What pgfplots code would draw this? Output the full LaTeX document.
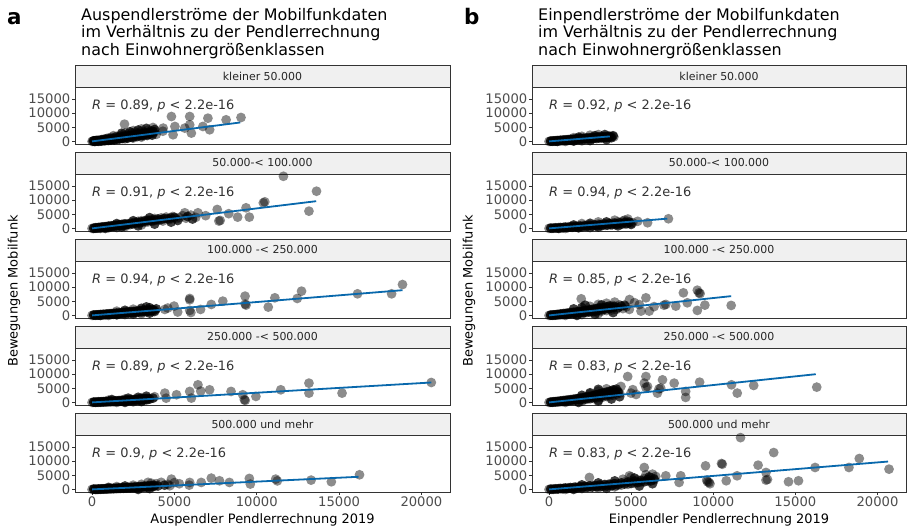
\documentclass[border=0pt]{standalone}
\usepackage{pgfplots}
\pgfplotsset{compat=1.18}
\usepackage{fontspec}
\setmainfont{DejaVu Sans}
\definecolor{gray20}{HTML}{333333}
\definecolor{gray30}{HTML}{4D4D4D}
\definecolor{stripfill}{HTML}{F0F0F0}
\definecolor{fitblue}{HTML}{0868AC}
\pgfplotsset{
  facet/.style={scale only axis, height=57bp,
    xmin=-1035, xmax=21735, ymin=-915, ymax=19215,
    axis line style={gray20, line width=0.9bp},
    tick style={gray20, line width=0.8bp}, tick align=outside, major tick length=3bp,
    ytick={0,5000,10000,15000}, xtick pos=bottom, ytick pos=left,
    scaled ticks=false, clip mode=individual,
    /pgf/number format/set thousands separator={},
    /pgf/number format/assume math mode=true,
    ticklabel style={font=\fontsize{13.2}{13.2}\selectfont, text=gray30},
    yticklabel style={inner sep=1.5bp},
  },
  top/.style={xtick=\empty},
  bottom/.style={xtick={0,5000,10000,15000,20000}, xticklabel style={inner sep=2bp}},
  dots/.style={only marks, mark=*, mark size=4.9bp, mark options={draw opacity=0, fill=black, fill opacity=0.45}},
  core/.style={only marks, mark=*, mark size=4.9bp, mark options={draw opacity=0, fill=black, fill opacity=0.75}},
  fit/.style={no marks, color=fitblue, line width=1.8bp},
}
\newcommand{\rlabel}[1]{\node[anchor=west, inner sep=0pt, text=gray20, font=\fontsize{13}{13}\selectfont] at (axis cs:0,12500) {#1};}
\newcommand{\strip}[4]{\draw[fill=stripfill, draw=gray20, line width=0.9bp] (#1,#2) rectangle ++(#3,22);
  \node[text=black!85, font=\fontsize{11}{11}\selectfont] at (#1+#3/2, #2+11) {#4};}
\begin{document}
\begin{tikzpicture}[x=1bp, y=1bp]
\useasboundingbox (0,0) rectangle (907,531);
% ---------- titles ----------
\node[anchor=base west, inner sep=0pt, font=\fontsize{21.5}{21.5}\selectfont\bfseries] at (7,506) {a};
\node[anchor=north west, inner sep=0pt, align=left, font=\fontsize{16}{17.5}\selectfont] at (81,523) {Auspendlerströme der Mobilfunkdaten\\im Verhältnis zu der Pendlerrechnung\\nach Einwohnergrößenklassen};
\node[anchor=base west, inner sep=0pt, font=\fontsize{21.5}{21.5}\selectfont\bfseries] at (464,506) {b};
\node[anchor=north west, inner sep=0pt, align=left, font=\fontsize{16}{17.5}\selectfont] at (538,523) {Einpendlerströme der Mobilfunkdaten\\im Verhältnis zu der Pendlerrechnung\\nach Einwohnergrößenklassen};
% ---------- axis labels ----------
\node[rotate=90, font=\fontsize{13}{13}\selectfont] at (14,240) {Bewegungen Mobilfunk};
\node[rotate=90, font=\fontsize{13}{13}\selectfont] at (469,240) {Bewegungen Mobilfunk};
\node[font=\fontsize{13}{13}\selectfont] at (262.5,11) {Auspendler Pendlerrechnung 2019};
\node[font=\fontsize{13}{13}\selectfont] at (719,11) {Einpendler Pendlerrechnung 2019};
% ---------- strips ----------
\strip{75}{444}{375}{kleiner 50.000}
\strip{75}{357}{375}{50.000-< 100.000}
\strip{75}{270}{375}{100.000 -< 250.000}
\strip{75}{183}{375}{250.000 -< 500.000}
\strip{75}{96}{375}{500.000 und mehr}
\strip{532}{444}{374}{kleiner 50.000}
\strip{532}{357}{374}{50.000-< 100.000}
\strip{532}{270}{374}{100.000 -< 250.000}
\strip{532}{183}{374}{250.000 -< 500.000}
\strip{532}{96}{374}{500.000 und mehr}
% ================= LEFT COLUMN =================
\begin{axis}[facet, top, width=375bp, at={(75bp,387bp)}, anchor=south west]
\addplot[dots] coordinates {(0,0) (50,100) (100,50) (150,200) (200,100) (250,300) (300,150) (350,250) (400,400) (450,200) (500,500) (550,300) (600,650) (650,400) (700,700) (750,450) (800,900) (850,600) (900,1000) (950,700) (1000,1200) (1050,800) (1100,1100) (1150,600) (1200,1400) (1300,900) (1400,1500) (1450,1000) (1500,1800) (1600,1200) (1700,1900) (1750,1300) (1800,2300) (1900,1500) (2000,2200) (2100,1700) (2200,2600) (2300,1900) (2400,2900) (2500,2100) (2600,3300) (2700,2400) (2800,3000) (2900,2000) (3000,3600) (3100,2600) (3200,3300) (3300,2800) (3400,4000) (3500,3000) (3600,3700) (3700,2700) (3800,3400) (3900,2500) (1300,2000) (2000,3000) (2500,3800) (3000,4400) (200,0) (400,0) (600,100) (800,200) (1000,300) (1500,700) (2000,900) (2500,1200) (3000,1500)
(1970,6090) (4820,8790) (4920,2340) (5930,8790) (5930,5860) (6030,2930) (7035,8200) (7140,4100) (8140,7620) (9045,8440) (6730,5270) (5630,4690) (4320,4690) (5030,5270) (4300,3600) (3700,4900)};
\addplot[core] coordinates {(100,200) (200,250) (300,350) (400,200) (500,300) (600,450) (700,350) (800,550) (900,450) (1000,700) (1100,600) (1200,900) (1300,700) (1400,1100) (1500,900) (1600,1400) (1700,1100) (1800,1600) (1900,1300) (2000,1700) (2100,1400) (2200,2000) (2300,1600) (2400,2200) (2500,1800) (2600,2500) (2700,2000) (2800,2600) (2900,2300) (3000,2800) (3100,2200) (3200,2900) (3300,2400) (3400,3200) (3500,2600) (3600,3100) (3700,3500) (3800,4200) (1800,2900) (2300,3400) (2800,4000) (3300,4600) (150,0) (350,100) (550,150) (750,300) (950,400) (1150,450) (1350,500) (1650,800) (1850,1000) (2150,1100) (2450,1400) (2750,1700) (3050,2000) (3350,2100) (3650,2200)};
\addplot[fit] coordinates {(0,0) (9000,6680)};
\rlabel{\textit{R} = 0.89, \textit{p} < 2.2e-16}
\end{axis}
\begin{axis}[facet, top, width=375bp, at={(75bp,300bp)}, anchor=south west]
\addplot[dots] coordinates {(0,0) (100,100) (200,50) (300,250) (400,150) (500,400) (600,250) (700,550) (800,350) (900,700) (1000,500) (1100,850) (1200,600) (1300,1000) (1400,750) (1500,1200) (1600,900) (1700,1300) (1800,1000) (1900,1500) (2000,1200) (2200,1700) (2300,1300) (2400,2000) (2500,1500) (2600,2200) (2700,1700) (2800,2500) (2900,1900) (3000,2700) (3200,2100) (3300,3000) (3400,2300) (3600,3200) (3700,2500) (3800,3500) (4000,2800) (4200,3700) (4300,2600) (4500,4000) (4700,3100) (4900,4200) (5100,3400) (5300,3800) (5500,4500) (5700,3600) (6000,4700) (6300,3900) (1000,200) (2000,600) (3000,1200) (500,0) (1500,300)
(11620,18400) (13630,13130) (13170,6090) (10490,9380) (10400,9000) (9350,7270) (9550,3980) (8840,3980) (7600,6680) (7780,2810) (7700,2600) (6430,5510) (5630,5510) (6900,4500) (8300,5200)};
\addplot[core] coordinates {(100,0) (200,200) (300,100) (400,350) (500,200) (600,500) (700,350) (800,600) (900,450) (1000,800) (1100,600) (1200,900) (1300,700) (1400,1100) (1500,850) (1600,1200) (1700,1000) (1800,1400) (1900,1100) (2000,1600) (2100,1300) (2200,1500) (2400,1600) (2600,1900) (2800,2100) (3000,2300) (3200,2600) (3400,2800) (3600,2700) (3800,3000) (4000,3300) (4200,3100) (4400,3500) (4600,3400) (4800,3700) (5000,3900) (3500,3800) (2500,2700) (1500,1700) (800,0) (1800,500) (2800,900) (3800,1500) (4800,2200) (5200,2800) (5800,4200) (6100,3300)};
\addplot[fit] coordinates {(0,0) (13610,9610)};
\rlabel{\textit{R} = 0.91, \textit{p} < 2.2e-16}
\end{axis}
\begin{axis}[facet, top, width=375bp, at={(75bp,213bp)}, anchor=south west]
\addplot[dots] coordinates {(0,0) (100,50) (200,150) (300,50) (400,250) (500,100) (600,350) (700,150) (800,450) (900,250) (1000,550) (1100,300) (1200,650) (1300,350) (1400,800) (1500,450) (1600,900) (1700,550) (1800,1000) (1900,600) (2000,1200) (2100,700) (2200,1300) (2300,800) (2400,1400) (2500,900) (2600,1500) (2700,1000) (2800,1700) (2900,1100) (3000,1800) (3100,1200) (3200,1900) (3300,1300) (3400,2000) (3500,1400) (3600,2100) (3700,1500) (3800,1900) (1000,0) (2000,300) (3000,600) (2500,2200) (1500,1500)
(18850,10900) (18190,7620) (16120,7620) (12720,8560) (12460,5980) (11100,6210) (10700,2930) (9290,6800) (9350,3630) (7940,5040) (7240,3870) (6590,2110) (5930,5980) (5930,5500) (5930,1760) (4980,3280) (4420,2110) (5200,1200) (4600,2600) (6000,1000) (9300,4000)};
\addplot[core] coordinates {(100,150) (200,50) (300,200) (400,100) (500,300) (600,200) (700,400) (800,250) (900,500) (1000,350) (1100,600) (1200,400) (1300,700) (1400,500) (1500,800) (1600,600) (1700,900) (1800,700) (1900,1050) (2000,800) (2100,1150) (2200,900) (2300,1250) (2400,1000) (2500,1350) (2600,1100) (2700,1450) (2800,1200) (2900,1600) (3000,1300) (3100,1700) (3200,1400) (3300,1800) (3400,1500) (3500,1900) (3600,1600) (3700,2000) (3800,1400) (2000,1800) (3000,2500) (3500,2700) (500,0) (1500,200) (2500,500) (3500,800) (3900,2300) (3300,3000)};
\addplot[fit] coordinates {(0,0) (18850,8900)};
\rlabel{\textit{R} = 0.94, \textit{p} < 2.2e-16}
\end{axis}
\begin{axis}[facet, top, width=375bp, at={(75bp,126bp)}, anchor=south west]
\addplot[dots] coordinates {(0,0) (100,50) (200,0) (300,150) (400,50) (500,200) (600,100) (700,300) (800,150) (900,350) (1000,200) (1100,450) (1200,250) (1300,500) (1400,300) (1500,600) (1600,350) (1700,700) (1800,400) (1900,750) (2000,450) (2100,850) (2200,500) (2300,900) (2400,600) (2500,1000) (2600,650) (2700,1100) (2800,700) (2900,1200) (3000,800) (3100,1300) (3200,900) (3300,1500) (3400,1000) (1000,800) (2000,1200) (3000,1600) (1500,0) (2500,200)
(20600,7030) (15180,3280) (13170,6800) (13170,3280) (11460,4450) (9950,2110) (9150,2700) (9250,940) (9300,700) (8440,3870) (7140,4450) (6430,6210) (6600,4000) (5930,3870) (6030,1520) (5130,2700) (4420,3280) (3800,2000) (4500,1500)};
\addplot[core] coordinates {(100,100) (200,100) (300,50) (400,200) (500,100) (600,250) (700,150) (800,300) (900,200) (1000,400) (1100,250) (1200,450) (1300,300) (1400,550) (1500,350) (1600,600) (1700,400) (1800,700) (1900,450) (2000,800) (2100,500) (2200,850) (2300,600) (2400,950) (2500,650) (2600,1050) (2700,700) (2800,1150) (2900,800) (3000,1250) (3100,850) (3200,1350) (3300,950) (3400,1400) (3500,1200) (3700,1500) (2000,0) (3000,300) (2200,1500) (2800,1800) (3300,2200) (1200,1000)};
\addplot[fit] coordinates {(0,0) (20600,7030)};
\rlabel{\textit{R} = 0.89, \textit{p} < 2.2e-16}
\end{axis}
\begin{axis}[facet, bottom, width=375bp, at={(75bp,39bp)}, anchor=south west]
\addplot[dots] coordinates {(0,0) (100,50) (200,0) (300,100) (400,50) (500,150) (600,100) (700,200) (800,150) (900,250) (1000,200) (1100,350) (1200,250) (1300,400) (1400,300) (1500,450) (1600,350) (1700,500) (1800,400) (1900,600) (2000,450) (2100,650) (2200,500) (2300,700) (2400,550) (2500,800) (2600,600) (2700,900) (2800,650) (2900,1000) (3000,700) (3100,1100) (3200,800) (3300,1200) (3400,900) (3500,1300) (3600,1000) (3700,1500) (3800,1100) (1500,1000) (2500,1500) (3000,1800) (3400,2500) (3600,2200) (3900,2000) (4200,2500) (4600,1800) (5000,2400)
(16240,5160) (14530,2700) (13300,3280) (11150,3630) (11250,3000) (9550,3870) (9610,1880) (8340,2460) (7740,3050) (7240,3980) (6630,2460) (5930,2460) (5900,1500) (4820,3630) (4720,1290) (5300,2000)};
\addplot[core] coordinates {(100,100) (200,50) (300,0) (400,150) (500,50) (600,200) (700,100) (800,250) (900,150) (1000,300) (1100,200) (1200,350) (1300,250) (1400,400) (1500,300) (1600,500) (1700,350) (1800,550) (1900,400) (2000,600) (2100,450) (2200,700) (2300,500) (2400,750) (2500,550) (2600,850) (2700,600) (2800,900) (2900,700) (3000,1000) (3100,750) (3200,1100) (3300,800) (3400,1200) (3500,900) (3600,1300) (3700,1000) (3800,1400) (4000,1200) (4400,1500) (2000,1200) (1000,700) (2800,0) (3500,300)};
\addplot[fit] coordinates {(0,0) (16180,4450)};
\rlabel{\textit{R} = 0.9, \textit{p} < 2.2e-16}
\end{axis}
% ================= RIGHT COLUMN =================
\begin{axis}[facet, top, width=374bp, at={(532bp,387bp)}, anchor=south west]
\addplot[dots] coordinates {(0,0) (100,50) (200,150) (300,50) (400,250) (500,100) (600,350) (700,200) (800,450) (900,250) (1000,550) (1100,300) (1200,650) (1300,400) (1400,750) (1500,500) (1600,850) (1700,550) (1800,950) (1900,650) (2000,1050) (2100,700) (2200,1150) (2300,800) (2400,1300) (2500,850) (2600,1400) (2700,950) (2800,1500) (2900,1000) (3000,1600) (3100,1100) (3200,1700) (3300,1200) (3400,1800) (3500,1300) (3600,1900) (3700,1400) (3800,1700) (3950,1600) (2000,1800) (2500,2200) (3000,2400) (1500,1300) (1000,0) (2000,200)};
\addplot[core] coordinates {(100,100) (200,50) (300,200) (400,100) (500,300) (600,200) (700,400) (800,300) (900,500) (1000,350) (1100,600) (1200,400) (1300,700) (1400,500) (1500,800) (1600,600) (1700,900) (1800,700) (1900,1000) (2000,750) (2100,1100) (2200,850) (2300,1200) (2400,950) (2500,1250) (2600,1000) (2700,1350) (2800,1100) (2900,1450) (3000,1200) (3100,1550) (3200,1300) (3300,1650) (3400,1400) (3500,1700) (3600,1500) (3700,1800) (3800,1300) (3900,2000) (1800,1500) (2800,2000) (3400,2400) (500,0) (1500,100) (2500,300) (3500,600)};
\addplot[fit] coordinates {(0,0) (3700,1760)};
\rlabel{\textit{R} = 0.92, \textit{p} < 2.2e-16}
\end{axis}
\begin{axis}[facet, top, width=374bp, at={(532bp,300bp)}, anchor=south west]
\addplot[dots] coordinates {(0,0) (150,50) (300,150) (450,100) (600,300) (750,200) (900,450) (1050,300) (1200,600) (1350,400) (1500,750) (1650,500) (1800,900) (1950,600) (2100,1050) (2250,700) (2400,1200) (2550,800) (2700,1350) (2850,900) (3000,1500) (3150,1000) (3300,1650) (3450,1100) (3600,1800) (3750,1200) (3900,1950) (4050,1300) (4200,2300) (4350,1400) (4500,2600) (4650,1500) (4800,2400) (4950,1700) (5100,2000) (2000,1700) (3000,2300) (4000,2900) (4600,2900) (1000,0) (2500,300)
(7270,3400) (6000,1990) (5400,2500) (4800,3300)};
\addplot[core] coordinates {(100,100) (250,50) (400,200) (550,100) (700,300) (850,200) (1000,450) (1150,300) (1300,550) (1450,400) (1600,700) (1750,500) (1900,800) (2050,600) (2200,950) (2350,700) (2500,1100) (2650,800) (2800,1200) (2950,950) (3100,1350) (3250,1050) (3400,1500) (3550,1150) (3700,1650) (3850,1300) (4000,1800) (4150,1450) (4300,1950) (4450,1550) (4600,2100) (4750,1700) (4900,2200) (5000,1400) (3500,2300) (2500,1800) (1500,1200) (600,0) (1800,200) (3000,500) (4200,900)};
\addplot[fit] coordinates {(0,0) (7200,3440)};
\rlabel{\textit{R} = 0.94, \textit{p} < 2.2e-16}
\end{axis}
\begin{axis}[facet, top, width=374bp, at={(532bp,213bp)}, anchor=south west]
\addplot[dots] coordinates {(0,0) (100,50) (200,150) (300,50) (400,250) (500,150) (600,400) (700,200) (800,550) (900,300) (1000,700) (1100,400) (1200,850) (1300,500) (1400,1000) (1500,600) (1600,1150) (1700,700) (1800,1300) (1900,800) (2000,1500) (2100,900) (2200,1700) (2300,1000) (2400,1900) (2500,1100) (2600,2100) (2700,1200) (2800,2300) (2900,1300) (3000,2600) (3200,1500) (3300,2900) (3500,1700) (3600,3200) (3800,1900) (3900,3500) (4100,2100) (4300,3700) (4500,2400) (4700,3000) (2500,3200) (3000,3900) (3500,4300) (4000,4700) (1960,5860) (1000,0) (2000,300) (3000,600)
(11090,3520) (9490,3630) (9030,1760) (9030,8900) (9130,7970) (9200,7700) (8180,7970) (8420,4450) (7720,3280) (7110,3870) (7000,3600) (5900,6210) (6100,1520) (5600,1520) (4890,2110) (5200,4500) (5500,3800) (6400,3100) (4900,5600)};
\addplot[core] coordinates {(100,100) (200,50) (300,200) (400,100) (500,350) (600,250) (700,500) (800,350) (900,650) (1000,450) (1100,800) (1200,550) (1300,950) (1400,650) (1500,1100) (1600,750) (1700,1250) (1800,900) (1900,1400) (2000,1050) (2100,1600) (2200,1150) (2300,1800) (2400,1300) (2500,2000) (2600,1450) (2700,2200) (2800,1600) (2900,2400) (3000,1800) (3100,2600) (3200,2000) (3300,2700) (3400,2200) (3500,3000) (3600,2400) (3700,3300) (3800,2600) (3900,2900) (4000,3100) (4200,2700) (4400,3300) (4600,3600) (1500,2300) (2000,2800) (2200,3600) (3200,3700) (1700,0) (2800,400) (3900,1000)};
\addplot[fit] coordinates {(0,0) (11090,6800)};
\rlabel{\textit{R} = 0.85, \textit{p} < 2.2e-16}
\end{axis}
\begin{axis}[facet, top, width=374bp, at={(532bp,126bp)}, anchor=south west]
\addplot[dots] coordinates {(0,0) (100,50) (200,150) (300,100) (400,300) (500,150) (600,450) (700,250) (800,600) (900,350) (1000,750) (1100,450) (1200,900) (1300,550) (1400,1050) (1500,650) (1600,1250) (1700,750) (1800,1450) (1900,850) (2000,1650) (2100,950) (2200,1850) (2300,1100) (2400,2100) (2500,1250) (2600,2300) (2700,1400) (2800,2600) (2900,1550) (3000,2900) (3100,1700) (3200,3200) (3300,1900) (3400,3500) (3500,2100) (3600,3800) (3700,2300) (3800,4100) (3900,2500) (4000,4300) (4100,2800) (4200,3900) (4300,3200) (2500,3000) (3000,4000) (3500,4800) (1000,0) (2000,400) (3000,800)
(16300,5390) (12460,5980) (11460,3280) (11110,6210) (9170,7150) (8320,3870) (8320,1760) (7620,6800) (6910,7970) (6800,5040) (6700,4800) (6600,3280) (5900,9140) (5800,6800) (6000,5600) (5900,5300) (4790,9140) (4380,5630) (4990,3280) (5300,2800) (5100,4500)};
\addplot[core] coordinates {(100,100) (200,50) (300,250) (400,150) (500,350) (600,250) (700,500) (800,350) (900,650) (1000,450) (1100,800) (1200,600) (1300,950) (1400,700) (1500,1100) (1600,850) (1700,1300) (1800,1000) (1900,1500) (2000,1150) (2100,1700) (2200,1300) (2300,1900) (2400,1450) (2500,2100) (2600,1650) (2700,2400) (2800,1850) (2900,2700) (3000,2050) (3100,3000) (3200,2250) (3300,3300) (3400,2500) (3500,3600) (3600,2700) (3700,3900) (3800,3000) (3900,4400) (4000,3500) (4100,4700) (4200,3600) (2000,2500) (2500,3400) (3000,4600) (1800,0) (3000,500) (3800,1200) (4300,2000)};
\addplot[fit] coordinates {(0,0) (16240,9960)};
\rlabel{\textit{R} = 0.83, \textit{p} < 2.2e-16}
\end{axis}
\begin{axis}[facet, bottom, width=374bp, at={(532bp,39bp)}, anchor=south west]
\addplot[dots] coordinates {(0,0) (150,50) (300,150) (450,100) (600,300) (750,200) (900,450) (1050,300) (1200,600) (1350,400) (1500,750) (1650,500) (1800,900) (1950,600) (2100,1050) (2250,700) (2400,1200) (2550,800) (2700,1350) (2850,900) (3000,1500) (3150,1000) (3300,1650) (3450,1100) (3600,1800) (3750,1200) (3900,1950) (4050,1300) (4200,2100) (4400,1500) (4600,2600) (4800,1800) (5000,3000) (5200,2200) (5400,3400) (5600,2600) (5800,3800) (6000,2900) (6200,4100) (6400,3300) (6500,4600) (5900,5200) (5000,4400) (4500,3600) (1000,0) (2000,300) (3000,600) (4000,900)
(20700,7150) (18890,10900) (18260,7740) (16200,7740) (15190,3050) (14580,2700) (13680,13010) (13210,5980) (13210,3280) (13300,3500) (12730,8560) (11660,18280) (11450,4800) (10790,3050) (10500,9140) (10550,8900) (9740,2460) (9530,8320) (9600,3300) (9800,2000) (9650,2700) (8020,4800) (7920,2460) (7110,4800) (6300,5390) (5800,7740) (4890,4800) (2460,4220)};
\addplot[core] coordinates {(100,100) (250,50) (400,200) (550,150) (700,350) (850,250) (1000,500) (1150,350) (1300,650) (1450,450) (1600,800) (1750,550) (1900,950) (2050,650) (2200,1100) (2350,750) (2500,1250) (2650,850) (2800,1400) (2950,1000) (3100,1550) (3250,1100) (3400,1700) (3550,1250) (3700,1850) (3850,1350) (4000,2000) (4200,1600) (4400,2300) (4600,1900) (4800,2600) (5000,2100) (5200,2900) (5400,2400) (5600,3200) (5800,2700) (6000,3500) (6200,3000) (6400,3700) (2000,1600) (3000,2300) (4000,3000) (5200,4000) (6100,4400) (1500,0) (3500,400) (5500,1200) (6300,2000)};
\addplot[fit] coordinates {(0,0) (20640,9840)};
\rlabel{\textit{R} = 0.83, \textit{p} < 2.2e-16}
\end{axis}
\end{tikzpicture}
\end{document}
